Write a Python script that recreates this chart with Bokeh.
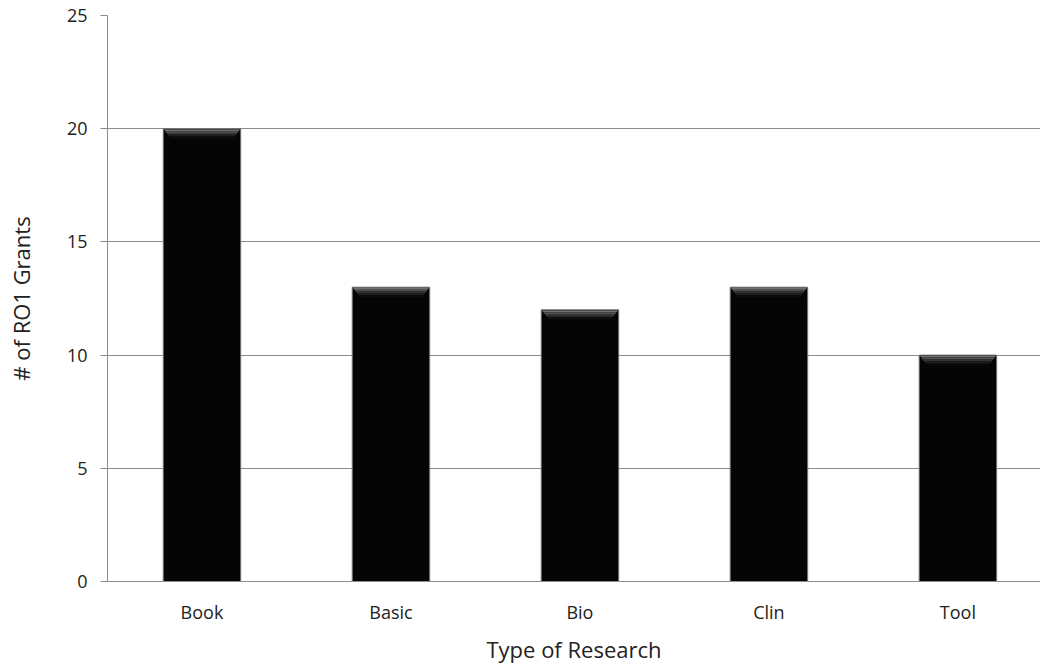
from bokeh.plotting import figure
from bokeh.models import ColumnDataSource, FixedTicker, Range1d
from bokeh.embed import file_html
from bokeh.resources import INLINE

# Data
categories = ["Book", "Basic", "Bio", "Clin", "Tool"]
grants = [20, 13, 12, 13, 10]

xs = [i + 0.5 for i in range(len(categories))]
bar_w = 0.41

p = figure(width=1040, height=667, output_backend="svg", toolbar_location=None,
           x_range=Range1d(0, 4.937), y_range=Range1d(0, 25),
           min_border_left=107, min_border_right=0, min_border_top=15, min_border_bottom=86)
p.outline_line_color = None
p.background_fill_color = "white"
p.border_fill_color = "white"

src = ColumnDataSource(dict(x=xs, top=grants, name=categories))
p.vbar(x="x", top="top", bottom=0, width=bar_w, source=src,
       fill_color="#050505", line_color="#777777", line_width=1)

# bevelled highlight along the top of each bar
bevel_h = 0.4
inset = 0.035
shades = ["#707070", "#505050", "#353535", "#1f1f1f", "#0d0d0d"]
for k, c in enumerate(shades):
    f0 = k / len(shades)
    f1 = (k + 1) / len(shades)
    xs_p, ys_p = [], []
    for x, t in zip(xs, grants):
        h = bar_w / 2 - 0.004
        y0 = t - 0.03 - f0 * bevel_h
        y1 = t - 0.03 - f1 * bevel_h
        d0 = inset * f0
        d1 = inset * f1
        xs_p.append([x - h + d0, x + h - d0, x + h - d1, x - h + d1])
        ys_p.append([y0, y0, y1, y1])
    p.patches(xs_p, ys_p, fill_color=c, line_color=None)

# axes
p.xaxis.ticker = FixedTicker(ticks=xs)
p.xaxis.major_label_overrides = {x: c for x, c in zip(xs, categories)}
p.xaxis.major_tick_line_color = None
p.xaxis.minor_tick_line_color = None
p.xaxis.axis_line_color = "#8c8c8c"
p.xaxis.major_label_text_font = "Open Sans"
p.xaxis.major_label_text_font_size = "18px"
p.xaxis.major_label_text_color = "#222222"
p.xaxis.major_label_standoff = 12
p.xaxis.axis_label = "Type of Research"
p.xaxis.axis_label_text_font = "Open Sans"
p.xaxis.axis_label_text_font_size = "22px"
p.xaxis.axis_label_text_font_style = "normal"
p.xaxis.axis_label_text_color = "#222222"
p.xaxis.axis_label_standoff = 7

p.yaxis.ticker = FixedTicker(ticks=[0, 5, 10, 15, 20, 25])
p.yaxis.minor_tick_line_color = None
p.yaxis.major_tick_out = 7
p.yaxis.major_tick_in = 0
p.yaxis.major_tick_line_color = "#8c8c8c"
p.yaxis.axis_line_color = "#8c8c8c"
p.yaxis.major_label_text_font = "Open Sans"
p.yaxis.major_label_text_font_size = "18px"
p.yaxis.major_label_text_color = "#222222"
p.yaxis.major_label_standoff = 13
p.yaxis.axis_label = "# of RO1 Grants"
p.yaxis.axis_label_text_font = "Open Sans"
p.yaxis.axis_label_text_font_size = "22px"
p.yaxis.axis_label_text_font_style = "normal"
p.yaxis.axis_label_text_color = "#222222"
p.yaxis.axis_label_standoff = 28

p.xgrid.grid_line_color = None
p.ygrid.grid_line_color = "#8c8c8c"
p.ygrid.grid_line_width = 1

open("out.html", "w").write(file_html(p, INLINE))
